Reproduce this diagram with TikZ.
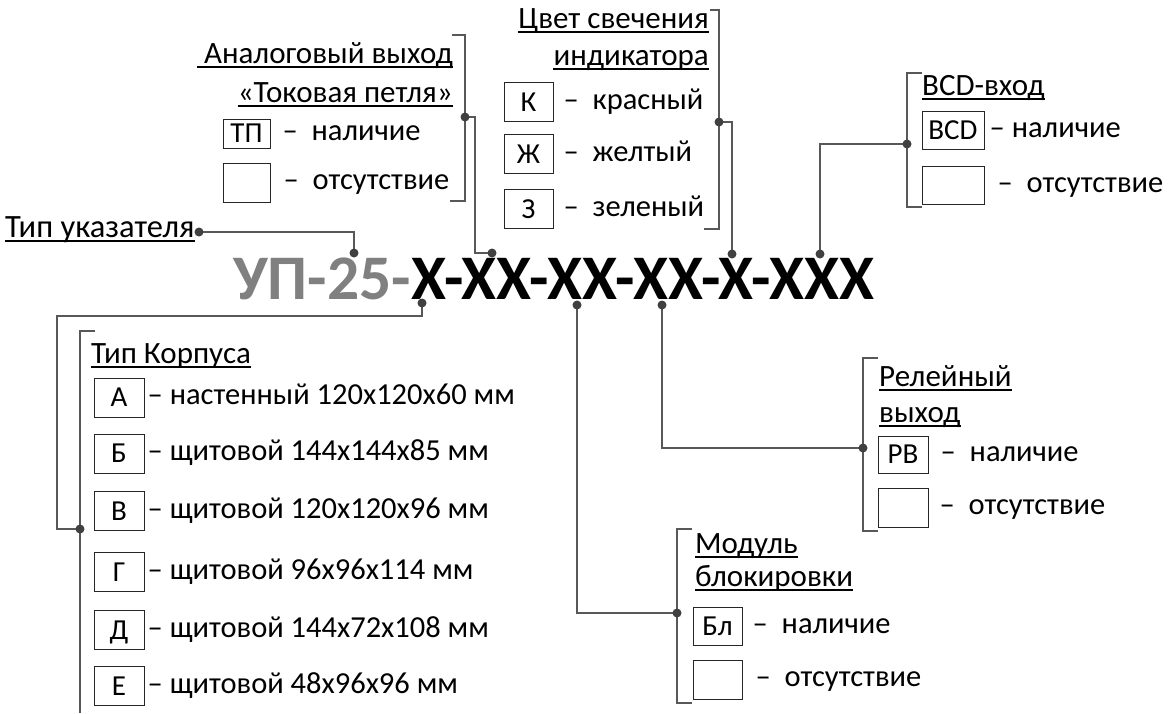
\documentclass[tikz,border=0pt]{standalone}
\usepackage{fontspec}
\setmainfont{Carlito}
\usepackage{tikz}
\usetikzlibrary{positioning}
\definecolor{lnc}{HTML}{585858}
\definecolor{dotc}{HTML}{404040}
\definecolor{ttlgray}{HTML}{808080}

\begin{document}
\begin{tikzpicture}[x=1pt, y=-1pt,
  cnx/.style={draw=lnc, line width=1.4pt},
  brk/.style={draw=lnc, line width=1.4pt},
  keybox/.style={draw=black!85, line width=1pt, minimum width=49pt, minimum height=39pt, inner sep=0pt, font=\fontsize{29}{31}\selectfont, text height=18.5pt, text depth=0pt},
  item/.style={inner sep=0pt, font=\fontsize{30.5}{33}\selectfont, text height=20pt, text depth=6pt},
  head/.style={inner sep=0pt, font=\fontsize{31}{34}\selectfont},
  uline/.style={draw=black, line width=2pt}]
\useasboundingbox (0,0) rectangle (1168,713);

% model code
\node[inner sep=0pt, anchor=base west, font=\fontsize{63.5}{68}\selectfont\bfseries] (code) at (233,299) {\textcolor{ttlgray}{УП-25-}X-XX-XX-XX-X-XXX};
\coordinate (code1) at (354,253);
\coordinate (code2) at (492,253);
\coordinate (code3) at (422,303);
\coordinate (code4) at (732,254);
\coordinate (code5a) at (577,305);
\coordinate (code5b) at (662,305);
\coordinate (code6) at (820,254);

% indicator type
\node[head, anchor=base west, font=\fontsize{32.5}{35}\selectfont] (ptrhead) at (5,237) {Тип указателя};
\coordinate (ptrdot) at (199,232);

% analog output
\node[head, anchor=base east] (anhead1) at (453,63) {\ Аналоговый выход};
\node[head, anchor=base east] (anhead2) at (453,102) {«Токовая петля»};
\node[keybox, minimum width=47pt, minimum height=29pt] (tpkey) at (246.5,133.5) {ТП};
\node[item, right=12pt of tpkey] (tplab) {–\ \ наличие};
\node[keybox, minimum width=47pt] (annokey) at (246.5,182.5) {};
\node[item, right=13pt of annokey] (annolab) {–\ \ отсутствие};
\draw[brk] (452,35) -- (465,35) -- (465,201) -- (450,201);
\coordinate (andot) at (465,117);
\coordinate (anbend) at (475,117);

% colour
\node[head, anchor=base east] (clhead1) at (709,28) {Цвет свечения};
\node[head, anchor=base east] (clhead2) at (709,65) {индикатора};
\node[keybox] (kkey) at (528.5,102) {К};
\node[keybox, below=12pt of kkey] (zhkey) {Ж};
\node[keybox, below=15pt of zhkey] (zkey) {З};
\node[item, right=10pt of kkey] (klab) {–\ \ красный};
\node[item, right=10pt of zhkey] (zhlab) {–\ \ желтый};
\node[item, right=10pt of zkey] (zlab) {–\ \ зеленый};
\draw[brk] (710,10) -- (719,10) -- (719,229) -- (704,229);
\coordinate (cldot) at (719,122);

% BCD input
\node[head, anchor=base west] (bcdhead) at (922,95) {BCD-вход};
\node[keybox, minimum width=62pt, minimum height=38pt] (bcdkey) at (953,130) {BCD};
\node[item, right=5pt of bcdkey] (bcdlab) {–\ наличие};
\node[keybox, minimum width=62pt, minimum height=38pt, below=16pt of bcdkey] (bcdnokey) {};
\node[item, right=13pt of bcdnokey] (bcdnolab) {–\ \ отсутствие};
\draw[brk] (922,73) -- (907,73) -- (907,207) -- (922,207);
\coordinate (bcddot) at (907,144);

% housing
\node[head, anchor=base west] (bdhead) at (91,363) {Тип Корпуса};
\foreach \y/\k/\t [count=\i] in {397.5/А/настенный 120x120x60 мм, 453.5/Б/щитовой 144x144x85 мм,
    511/В/щитовой 120x120x96 мм, 572/Г/щитовой 96x96x114 мм, 630/Д/щитовой 144x72x108 мм,
    686/Е/щитовой 48x96x96 мм}{
  \node[keybox, minimum width=50pt] (bd\i) at (119,\y) {\k};
  \node[item, right=3pt of bd\i] (bdlab\i) {– \t};
}
\draw[brk] (95,331) -- (80,331) -- (80,713);
\coordinate (bddot) at (80,529);
\coordinate (bdbend) at (57,316);

% relay output
\node[head, anchor=base west] (rvhead1) at (879,386) {Релейный};
\node[head, anchor=base west] (rvhead2) at (879,422) {выход};
\node[keybox, minimum width=50pt, minimum height=37pt] (rvkey) at (903,454.5) {РВ};
\node[item, right=12pt of rvkey] (rvlab) {–\ \ наличие};
\node[keybox, minimum width=50pt, below=14pt of rvkey] (rvnokey) {};
\node[item, right=11pt of rvnokey] (rvnolab) {–\ \ отсутствие};
\draw[brk] (878,358) -- (863,358) -- (863,531) -- (878,531);
\coordinate (rvdot) at (863,448);

% lock module
\node[head, anchor=base west] (blhead1) at (695,553) {Модуль};
\node[head, anchor=base west] (blhead2) at (695,586) {блокировки};
\node[keybox, minimum height=38pt] (blkey) at (717.5,626) {Бл};
\node[item, right=10pt of blkey] (bllab) {–\ \ наличие};
\node[keybox, below=14pt of blkey] (blnokey) {};
\node[item, right=13pt of blnokey] (blnolab) {–\ \ отсутствие};
\draw[brk] (692,529) -- (677,529) -- (677,703) -- (692,703);
\coordinate (bldot) at (677,613);

% underlines
\foreach \n in {ptrhead,anhead1,anhead2,clhead1,clhead2,bcdhead,bdhead,rvhead1,rvhead2,blhead1,blhead2}
  \draw[uline] ([yshift=-4pt]\n.base west) -- ([yshift=-4pt]\n.base east);

% connectors
\draw[cnx] (ptrdot) -| (code1);
\draw[cnx] (andot) -- (anbend) |- (code2);
\draw[cnx] (cldot) -| (code4);
\draw[cnx] (bcddot) -| (code6);
\draw[cnx] (code3) |- (bdbend) |- (bddot);
\draw[cnx] (code5b) |- (rvdot);
\draw[cnx] (code5a) |- (bldot);
\foreach \c in {ptrdot,code1,code2,code3,code4,code5a,code5b,code6,andot,cldot,bcddot,bddot,rvdot,bldot}
  \fill[dotc] (\c) circle (4.5);
\end{tikzpicture}
\end{document}
